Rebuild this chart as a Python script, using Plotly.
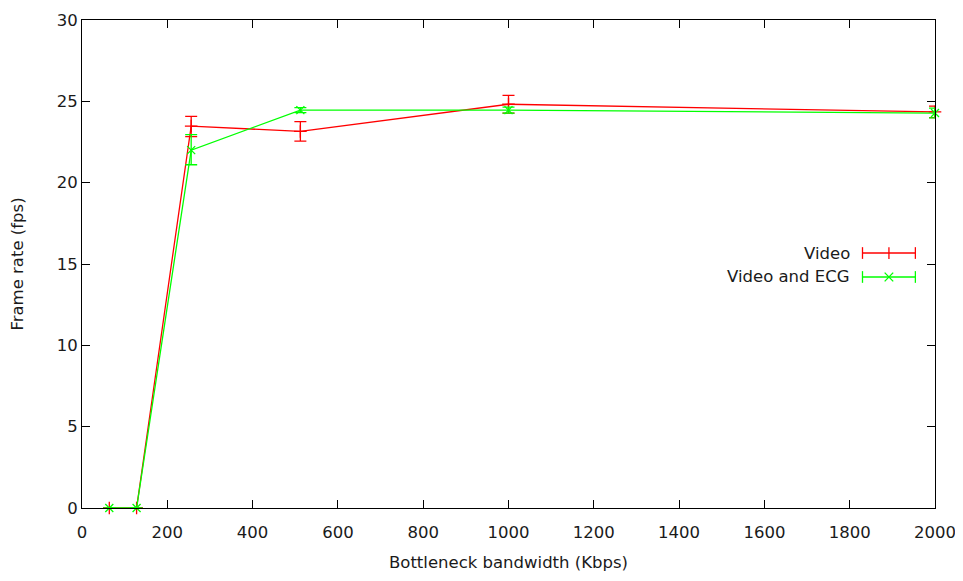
import plotly.graph_objects as go

bandwidth = [64, 128, 256, 512, 1000, 2000]
video_fps = [0, 0, 23.48, 23.15, 24.82, 24.35]
video_err_plus = [0, 0, 0.6, 0.6, 0.55, 0.35]
video_err_minus = [0, 0, 0.65, 0.6, 0.55, 0.35]
ecg_fps = [0, 0, 22.0, 24.46, 24.46, 24.28]
ecg_err_plus = [0, 0, 0.95, 0.15, 0.18, 0.3]
ecg_err_minus = [0, 0, 0.9, 0.15, 0.18, 0.3]

x_ticks = [0, 200, 400, 600, 800, 1000, 1200, 1400, 1600, 1800, 2000]
y_ticks = [0, 5, 10, 15, 20, 25, 30]

RED = "#ff0000"
GREEN = "#00ff00"
FONT = "DejaVu Sans"
TXT = "#1a1a1a"
FS = 16.5

fig = go.Figure()
fig.add_trace(go.Scatter(
    x=bandwidth, y=video_fps, mode="lines+markers", name="Video",
    line=dict(color=RED, width=1.3), cliponaxis=False,
    marker=dict(symbol="cross-thin", size=9, line=dict(color=RED, width=1.3)),
    error_y=dict(type="data", symmetric=False, array=video_err_plus,
                 arrayminus=video_err_minus, color=RED, thickness=1.3, width=6),
    showlegend=False,
))
fig.add_trace(go.Scatter(
    x=bandwidth, y=ecg_fps, mode="lines+markers", name="Video and ECG",
    line=dict(color=GREEN, width=1.3), cliponaxis=False,
    marker=dict(symbol="x-thin", size=8, line=dict(color=GREEN, width=1.3)),
    error_y=dict(type="data", symmetric=False, array=ecg_err_plus,
                 arrayminus=ecg_err_minus, color=GREEN, thickness=1.3, width=6),
    showlegend=False,
))

# Manual legend (gnuplot style: text on the left, sample on the right)
legend_items = [("Video", RED, "plus", 0.5225), ("Video and ECG", GREEN, "x", 0.4734)]
x0, x1, xm = 0.915, 0.977, 0.946
capw = 0.012
for label, color, sym, yy in legend_items:
    fig.add_annotation(x=0.903, y=yy, xref="paper", yref="paper", text=label,
                       showarrow=False, xanchor="right", yanchor="middle",
                       font=dict(family=FONT, size=FS, color=TXT))
    fig.add_shape(type="line", xref="paper", yref="paper", x0=x0, x1=x1, y0=yy, y1=yy,
                  line=dict(color=color, width=1.3))
    for xc in (x0, x1):
        fig.add_shape(type="line", xref="paper", yref="paper", x0=xc, x1=xc,
                      y0=yy - capw, y1=yy + capw, line=dict(color=color, width=1.3))
    dx, dy = 0.005, 0.009
    if sym == "plus":
        fig.add_shape(type="line", xref="paper", yref="paper", x0=xm, x1=xm,
                      y0=yy - capw, y1=yy + capw, line=dict(color=color, width=1.3))
    else:
        fig.add_shape(type="line", xref="paper", yref="paper", x0=xm - dx, x1=xm + dx,
                      y0=yy - dy, y1=yy + dy, line=dict(color=color, width=1.3))
        fig.add_shape(type="line", xref="paper", yref="paper", x0=xm - dx, x1=xm + dx,
                      y0=yy + dy, y1=yy - dy, line=dict(color=color, width=1.3))

axis_common = dict(
    showgrid=False, zeroline=False, showline=True, linecolor="#000000", linewidth=1,
    mirror="allticks", ticks="inside", ticklen=8, tickcolor="#000000", tickwidth=1,
    tickfont=dict(family=FONT, size=FS, color=TXT), automargin=False,
)
fig.update_xaxes(range=[0, 2000], tickvals=x_ticks, ticklabelstandoff=9,
                 title=dict(text="Bottleneck bandwidth (Kbps)", font=dict(family=FONT, size=FS, color=TXT), standoff=15),
                 **axis_common)
fig.update_yaxes(range=[0, 30], tickvals=y_ticks,
                 title=dict(text="Frame rate (fps)", font=dict(family=FONT, size=FS, color=TXT), standoff=30),
                 **axis_common)

fig.update_layout(
    width=955, height=573,
    margin=dict(l=74, r=28, t=12, b=73),
    plot_bgcolor="white", paper_bgcolor="white",
    font=dict(family=FONT, size=FS, color=TXT),
)

fig.write_html("out.html")
